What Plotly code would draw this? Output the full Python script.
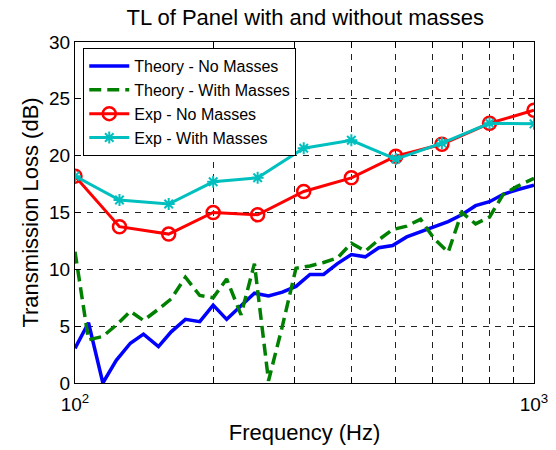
import plotly.graph_objects as go

# Theory curves (fine frequency resolution)
freq_theory = [100, 107, 115, 123, 132, 141, 152, 162, 174, 187, 200, 214, 230, 246,
               264, 283, 303, 325, 348, 373, 400, 429, 459, 492, 528, 566, 606, 650,
               696, 746, 800, 857, 919, 1000]
tl_theory_no_mass = [3.05, 5.3, 0.0, 2.0, 3.5, 4.3, 3.2, 4.5, 5.6, 5.4, 6.85, 5.6, 6.8, 7.9,
                     7.65, 8.0, 8.5, 9.55, 9.55, 10.5, 11.3, 11.1, 11.9, 12.1, 12.85, 13.3,
                     13.7, 14.2, 14.8, 15.6, 15.95, 16.6, 17.0, 17.4]
tl_theory_mass = [11.55, 3.8, 4.1, 5.1, 6.3, 5.5, 6.5, 7.4, 9.3, 7.7, 7.5, 9.15, 6.0, 10.5,
                  0.2, 5.0, 10.1, 10.3, 10.6, 11.0, 12.3, 11.6, 12.6, 13.5, 13.8, 14.4,
                  12.7, 11.5, 15.0, 14.0, 14.6, 16.6, 17.3, 18.0]

# Measured third-octave bands
freq_exp = [100, 125, 160, 200, 250, 315, 400, 500, 630, 800, 1000]
tl_exp_no_mass = [18.2, 13.75, 13.1, 15.0, 14.8, 16.85, 18.05, 19.95, 21.0, 22.85, 24.0]
tl_exp_mass = [18.2, 16.1, 15.75, 17.7, 18.05, 20.65, 21.35, 19.7, 21.1, 22.85, 22.8]

x_ticks = [100, 200, 300, 400, 500, 600, 700, 800, 900, 1000]
x_tick_text = ["10<sup>2</sup>", "", "", "", "", "", "", "", "", "10<sup>3</sup>"]
y_ticks = [0, 5, 10, 15, 20, 25, 30]

FONT = "Arial, Liberation Sans, Helvetica, sans-serif"

fig = go.Figure()
fig.add_trace(go.Scatter(x=freq_theory, y=tl_theory_no_mass, mode="lines",
                         name="Theory - No Masses",
                         line=dict(color="#0000FF", width=3.5)))
fig.add_trace(go.Scatter(x=freq_theory, y=tl_theory_mass, mode="lines",
                         name="Theory - With Masses",
                         line=dict(color="#008000", width=3.5, dash="12px,6px")))
fig.add_trace(go.Scatter(x=freq_exp, y=tl_exp_no_mass, mode="lines+markers",
                         name="Exp - No Masses",
                         line=dict(color="#FF0000", width=3),
                         marker=dict(symbol="circle-open", size=13, color="#FF0000",
                                     line=dict(width=2.5, color="#FF0000"))))
fig.add_trace(go.Scatter(x=freq_exp, y=tl_exp_mass, mode="lines+markers",
                         name="Exp - With Masses",
                         line=dict(color="#00BFBF", width=3),
                         marker=dict(symbol="asterisk-open", size=10, color="#00BFBF",
                                     line=dict(width=2, color="#00BFBF"))))

axis_common = dict(
    showline=True, linecolor="black", linewidth=1, mirror="ticks",
    ticks="inside", ticklen=6, tickcolor="black", tickwidth=1,
    showgrid=True, gridcolor="#222222", gridwidth=1, griddash="6px,6px",
    zeroline=False, automargin=False,
    tickfont=dict(family=FONT, size=19, color="black"),
)

fig.update_layout(
    width=556, height=450,
    margin=dict(l=75, r=22, t=42, b=67),
    paper_bgcolor="white", plot_bgcolor="white",
    title=dict(text="TL of Panel with and without masses", x=0.549, xanchor="center",
               y=0.962, yanchor="middle", automargin=False,
               font=dict(family=FONT, size=22, color="black")),
    xaxis=dict(type="log", range=[2, 3], tickvals=x_ticks, ticktext=x_tick_text,
               ticklabelstandoff=4,
               title=dict(text="Frequency (Hz)", standoff=10,
                          font=dict(family=FONT, size=22, color="black")),
               **axis_common),
    yaxis=dict(range=[0, 30], tickvals=y_ticks,
               title=dict(text="Transmission Loss (dB)", standoff=4,
                          font=dict(family=FONT, size=22, color="black")),
               **axis_common),
    legend=dict(x=0.018, y=0.982, xanchor="left", yanchor="top",
                bgcolor="white", bordercolor="black", borderwidth=1,
                font=dict(family=FONT, size=16, color="black"),
                tracegroupgap=0, itemwidth=40),
    showlegend=True,
)

fig.write_html("out.html")
